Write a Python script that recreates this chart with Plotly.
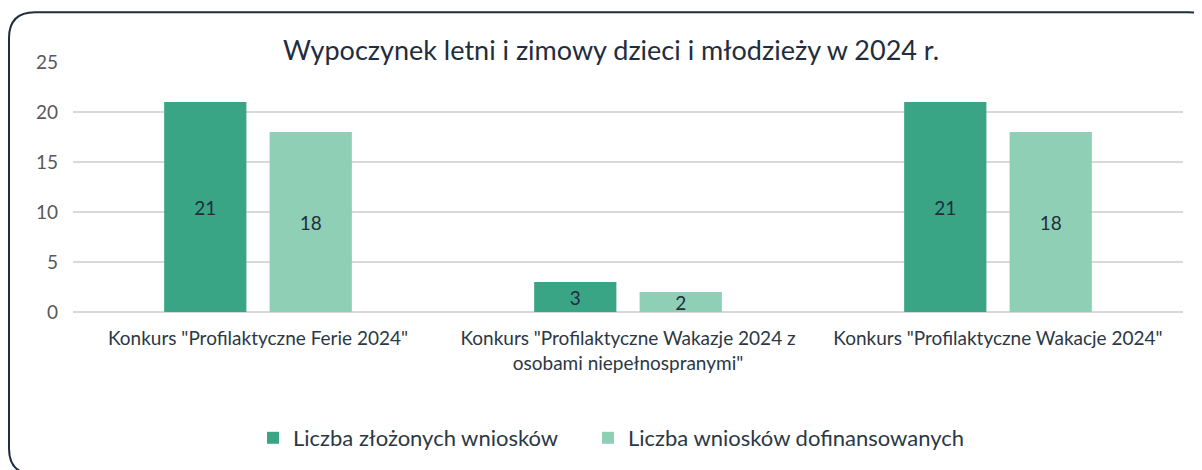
"""Bar chart: Wypoczynek letni i zimowy dzieci i młodzieży w 2024 r."""

import plotly.graph_objects as go

CATEGORIES = [
    'Konkurs "Profilaktyczne Ferie 2024"',
    'Konkurs "Profilaktyczne Wakazje 2024 z<br>osobami niepełnospranymi"',
    'Konkurs "Profilaktyczne Wakacje 2024"',
]
SUBMITTED = [21, 3, 21]
FUNDED = [18, 2, 18]
SERIES_NAMES = ["Liczba złożonych wniosków", "Liczba wniosków dofinansowanych"]
Y_TICKS = [0, 5, 10, 15, 20, 25]

TITLE = "Wypoczynek letni i zimowy dzieci i młodzieży w 2024 r."
FONT = "Lato, 'Open Sans', sans-serif"
DARK_GREEN = "#3aa585"
LIGHT_GREEN = "#8fcfb6"
TEXT_DARK = "#1f2d3d"

# page body has an 8px margin, so the figure is offset by (8, 8)
OFF = 8
W, H = 1202 - OFF, 470 - OFF
# plot area in figure pixels
L, R, T, B = 73 - OFF, 1183 - OFF, 62 - OFF, 313 - OFF


def px_to_paper(x, y):
    return (x - L) / (R - L), (B - y) / (B - T)


def rounded_rect_path(x0, y0, x1, y1, r):
    """SVG path (paper coords) for a rounded rectangle given in pixels."""
    rx, ry = r / (R - L), r / (B - T)
    ax0, ay0 = px_to_paper(x0, y1)  # bottom-left
    ax1, ay1 = px_to_paper(x1, y0)  # top-right
    return (
        f"M {ax0 + rx} {ay1} L {ax1 - rx} {ay1} "
        f"Q {ax1} {ay1} {ax1} {ay1 - ry} L {ax1} {ay0 + ry} "
        f"Q {ax1} {ay0} {ax1 - rx} {ay0} L {ax0 + rx} {ay0} "
        f"Q {ax0} {ay0} {ax0} {ay0 + ry} L {ax0} {ay1 - ry} "
        f"Q {ax0} {ay1} {ax0 + rx} {ay1} Z"
    )


def legend_box(left_px):
    x, y = px_to_paper(left_px - OFF, 438 - OFF)
    return dict(
        visible=True,
        orientation="h",
        x=x,
        xanchor="left",
        y=y,
        yanchor="middle",
        font=dict(family=FONT, size=22, color="#2b3845"),
        itemclick=False,
        bgcolor="rgba(0,0,0,0)",
    )


fig = go.Figure()

# each series gets its own legend box so the spacing can match the original
for name, values, color, legend_id in [
    (SERIES_NAMES[0], SUBMITTED, DARK_GREEN, "legend"),
    (SERIES_NAMES[1], FUNDED, LIGHT_GREEN, "legend2"),
]:
    fig.add_trace(go.Bar(
        x=CATEGORIES,
        y=values,
        name=name,
        legend=legend_id,
        showlegend=True,
        marker=dict(color=color, line=dict(width=0)),
        text=values,
        textposition="inside",
        insidetextanchor="middle",
        textangle=0,
        constraintext="none",
        textfont=dict(family=FONT, size=19, color=TEXT_DARK),
        hoverinfo="skip",
    ))

fig.update_layout(
    width=W,
    height=H,
    margin=dict(l=L, r=W - R, t=T, b=H - B),
    paper_bgcolor="white",
    plot_bgcolor="white",
    font=dict(family=FONT, color="#404040"),
    showlegend=True,
    barmode="group",
    bargap=0.43,
    bargroupgap=0.22,
    title=dict(
        text=TITLE,
        font=dict(family=FONT, size=27, color=TEXT_DARK),
        x=(611 - OFF) / W,
        xref="container",
        xanchor="center",
        y=1 - (51 - OFF) / H,
        yref="container",
        yanchor="middle",
    ),
    xaxis=dict(
        showgrid=False,
        showline=False,
        ticks="",
        ticklabelstandoff=13,
        tickfont=dict(family=FONT, size=19, color="#2b3845"),
    ),
    yaxis=dict(
        range=[0, 25],
        tickvals=Y_TICKS,
        showgrid=True,
        gridcolor="#d9d9d9",
        gridwidth=1.5,
        zeroline=True,
        zerolinecolor="#d9d9d9",
        zerolinewidth=1.5,
        showline=False,
        ticks="",
        ticklabelstandoff=14,
        tickfont=dict(family=FONT, size=19, color="#595959"),
    ),
    legend=legend_box(253),
    legend2=legend_box(588),
    shapes=[dict(
        type="path",
        xref="paper",
        yref="paper",
        path=rounded_rect_path(9 - OFF, 12 - OFF, 1214 - OFF, 476 - OFF, 26),
        line=dict(color=TEXT_DARK, width=2),
        fillcolor="rgba(0,0,0,0)",
        layer="below",
    )],
)

fig.write_html("out.html")
